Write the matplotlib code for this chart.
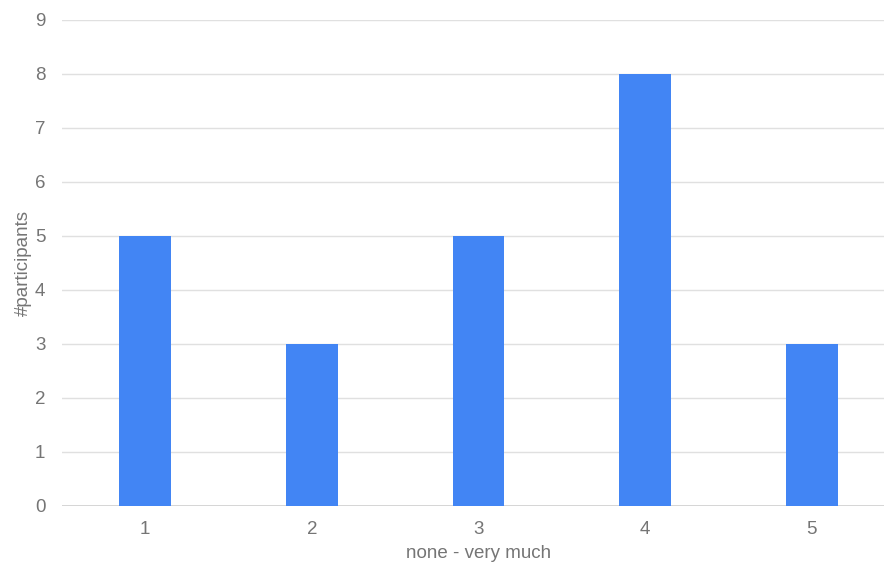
import matplotlib
matplotlib.use("Agg")
import matplotlib.pyplot as plt

# Survey responses: rating scale (1 = none, 5 = very much)
categories = ["1", "2", "3", "4", "5"]
participants = [5, 3, 5, 8, 3]
y_ticks = list(range(0, 10))

plt.rcParams["font.family"] = ["Liberation Sans", "DejaVu Sans"]

W, H = 884, 567
fig = plt.figure(figsize=(W / 100, H / 100), dpi=100)
left, right = 62, 895
top, bottom = 19.5, 506
ax = fig.add_axes([left / W, (H - bottom) / H, (right - left) / W, (bottom - top) / H])

x = list(range(len(categories)))
ax.bar(x, participants, width=0.312, color="#4285F4", zorder=3)

ax.set_xlim(-0.5, len(categories) - 0.5)
ax.set_ylim(0, 9)
ax.set_yticks(y_ticks)
ax.set_xticks(x)
ax.set_xticklabels(categories)

text_color = "#757575"
ax.grid(axis="y", color="#e0e0e0", linewidth=1.0, zorder=0)
ax.axhline(0, color="#d0d0d0", linewidth=1.2, zorder=2)
for s in ax.spines.values():
    s.set_visible(False)
ax.tick_params(axis="both", length=0, labelsize=13.5, labelcolor=text_color)
ax.tick_params(axis="y", pad=12)
ax.tick_params(axis="x", pad=11)

ax.set_xlabel("none - very much", fontsize=13.5, color=text_color, labelpad=5)
ax.set_ylabel("#participants", fontsize=13.5, color=text_color)
ax.yaxis.set_label_coords(-0.036, 0.5)

fig.savefig("out.png", dpi=100, facecolor="white")
